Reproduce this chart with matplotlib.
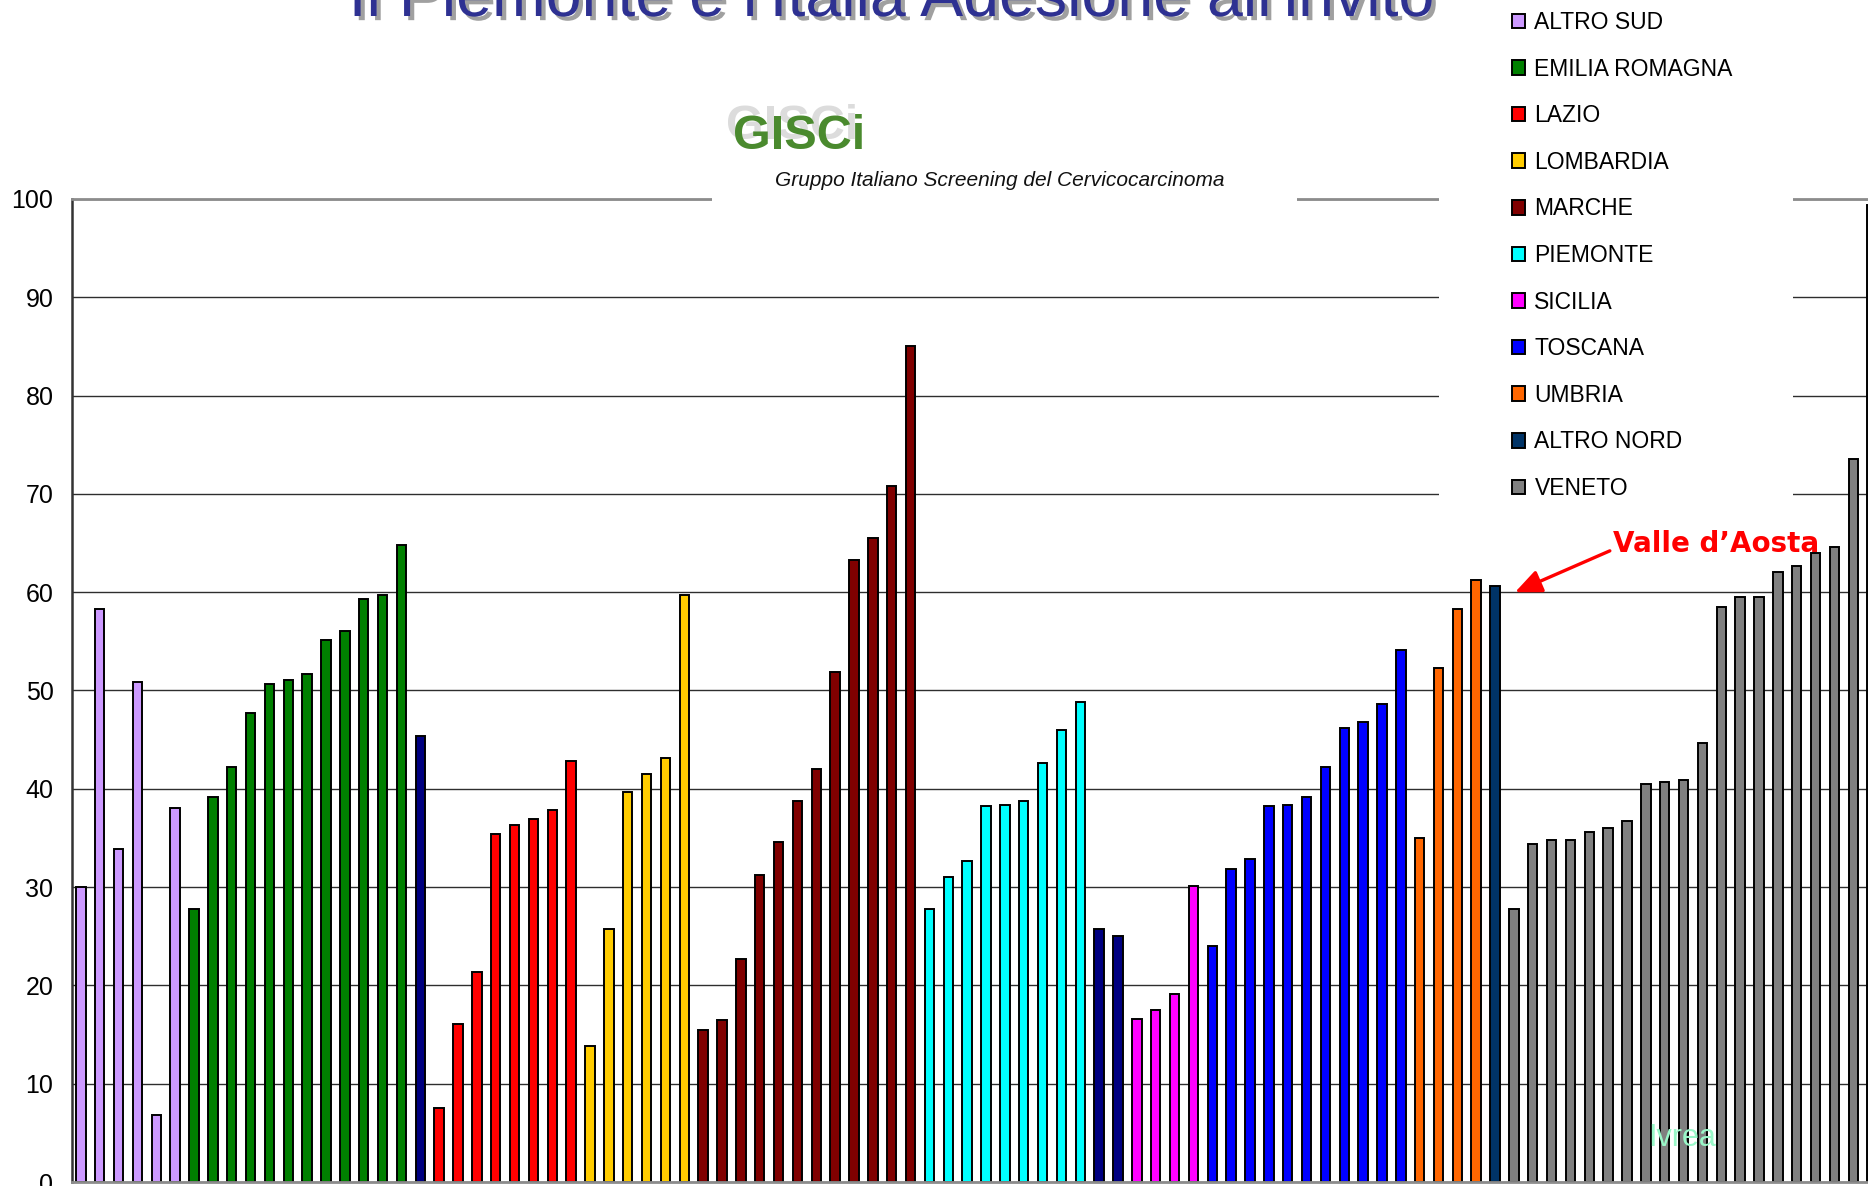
"""
Adesione all'invito per programma di screening, raggruppati per regione.
"""

import matplotlib
matplotlib.use("Agg")
import matplotlib.pyplot as plt
import matplotlib.patheffects as pe
from matplotlib.patches import Patch, Rectangle
from matplotlib import font_manager
import numpy as np

# Valori di adesione (%), nell'ordine delle barre
altro_sud = [30.0, 58.3, 33.9, 50.9, 6.8, 38.0]
emilia_romagna = [27.8, 39.2, 42.2, 47.7, 50.7, 51.1, 51.7, 55.1, 56.1, 59.3, 59.7, 64.8]
altro_a = [45.4]
lazio = [7.5, 16.1, 21.4, 35.4, 36.3, 36.9, 37.8, 42.8]
lombardia = [13.8, 25.7, 39.7, 41.5, 43.1, 59.7]
marche = [15.5, 16.5, 22.7, 31.2, 34.6, 38.8, 42.0, 51.9, 63.3, 65.5, 70.8, 85.0]
piemonte = [27.8, 31.0, 32.7, 38.2, 38.4, 38.8, 42.6, 46.0, 48.8]
altro_b = [25.7, 25.0]
sicilia = [16.6, 17.5, 19.1, 30.1]
toscana = [24.0, 31.8, 32.9, 38.2, 38.4, 39.2, 42.2, 46.2, 46.8, 48.6, 54.1]
umbria = [35.0, 52.3, 58.3, 61.2]
altro_nord = [60.6]
veneto = [27.8, 34.4, 34.8, 34.8, 35.6, 36.0, 36.7, 40.5, 40.7, 40.9, 44.7,
          58.5, 59.5, 59.5, 62.1, 62.7, 64.0, 64.6, 73.5, 99.4]

# (etichetta, colore, valori, in legenda)
GROUPS = [
    ("ALTRO SUD", "#CC99FF", altro_sud, True),
    ("EMILIA ROMAGNA", "#008000", emilia_romagna, True),
    ("", "#000080", altro_a, False),
    ("LAZIO", "#FF0000", lazio, True),
    ("LOMBARDIA", "#FFCC00", lombardia, True),
    ("MARCHE", "#800000", marche, True),
    ("PIEMONTE", "#00FFFF", piemonte, True),
    ("", "#000080", altro_b, False),
    ("SICILIA", "#FF00FF", sicilia, True),
    ("TOSCANA", "#0000FF", toscana, True),
    ("UMBRIA", "#FF6600", umbria, True),
    ("ALTRO NORD", "#003366", altro_nord, True),
    ("VENETO", "#808080", veneto, True),
]

values = []
colors = []
for _, col, vals, _ in GROUPS:
    values += vals
    colors += [col] * len(vals)
x = np.arange(len(values))
valle_idx = len(values) - len(veneto) - 1

W, H = 1868, 1186
plt.rcParams["font.family"] = ["Liberation Sans", "DejaVu Sans"]

fig = plt.figure(figsize=(W / 100, H / 100), dpi=100)
fig.patch.set_facecolor("white")

# Area del grafico: esce dal bordo destro come nell'originale
left_px, right_px = 71.5, 1881.6
top_px, bottom_px = 199, 1182
ax = fig.add_axes([left_px / W, (H - bottom_px) / H,
                   (right_px - left_px) / W, (bottom_px - top_px) / H])

ax.bar(x, values, width=0.5, color=colors, edgecolor="black", linewidth=1.4, zorder=2)

ax.set_xlim(-0.5, len(values) - 0.5)
ax.set_ylim(0, 100)
ax.set_yticks(range(0, 101, 10))
ax.set_xticks([])
ax.tick_params(axis="y", length=0, pad=13, labelsize=18)
ax.set_axisbelow(True)
ax.yaxis.grid(True, color="#2E2E2E", linewidth=1.0)
ax.spines["right"].set_visible(False)
ax.spines["top"].set_color("#8C8C8C")
ax.spines["top"].set_linewidth(2.0)
ax.spines["left"].set_color("#333333")
ax.spines["left"].set_linewidth(1.8)
ax.spines["bottom"].set_color("#8C8C8C")
ax.spines["bottom"].set_linewidth(2.0)

# Annotazione Valle d'Aosta
ax.annotate("Valle d\u2019Aosta", xy=(valle_idx + 1.06, 60.0), xytext=(86.7, 64.9),
            ha="center", va="center", fontsize=20, fontweight="bold",
            color="#FF0000", family="DejaVu Sans",
            arrowprops=dict(arrowstyle="-|>,head_length=0.8,head_width=0.35",
                            color="#FF0000", lw=2.4, mutation_scale=20,
                            relpos=(0.0, 0.3), shrinkA=0, shrinkB=0))

ax.text(84.9, 4.5, "Ivrea", ha="center", va="center", fontsize=22, color="#99F8C8")

# Riquadri bianchi (logo e legenda) sopra la griglia
fig.add_artist(Rectangle((712 / W, 1 - 215 / H), (1297 - 712) / W, 145 / H,
                         transform=fig.transFigure, facecolor="white",
                         edgecolor="none", zorder=2))
fig.add_artist(Rectangle((1439 / W, 1 - 512 / H), (1793 - 1439) / W, 512 / H,
                         transform=fig.transFigure, facecolor="white",
                         edgecolor="none", zorder=2))

# Logo GISCi
fig.text(726 / W, 1 - 139 / H, "GISCi", fontsize=35, fontweight="bold",
         color="#DCDCDC", ha="left", va="baseline", zorder=3)
fig.text(733 / W, 1 - 149 / H, "GISCi", fontsize=35, fontweight="bold",
         color="#4A8A2E", ha="left", va="baseline", zorder=4)
fig.text(1000 / W, 1 - 181 / H, "Gruppo Italiano Screening del Cervicocarcinoma",
         fontsize=15, style="italic", color="#111111", ha="center", va="center", zorder=4)

# Titolo (tagliato in alto)
names = {f.name for f in font_manager.fontManager.ttflist}
title_family = "Liberation Sans Narrow" if "Liberation Sans Narrow" in names else "Liberation Sans"
title = fig.text(892 / W, 1 - 16 / H, "Il Piemonte e l'Italia Adesione all'invito",
                 ha="center", va="baseline", fontsize=50, color="#2E3192",
                 family=title_family, zorder=4,
                 path_effects=[pe.withSimplePatchShadow(offset=(3, -3),
                                                        shadow_rgbFace="#A0A0A0", alpha=1)])
fig.canvas.draw()
tw = title.get_window_extent(fig.canvas.get_renderer()).width
title.set_fontsize(title.get_fontsize() * 1086 / tw)

# Legenda
handles = [Patch(facecolor=col, edgecolor="black", linewidth=1.4)
           for lab, col, _, show in GROUPS if show]
labels = [lab for lab, _, _, show in GROUPS if show]
fig.legend(handles, labels, loc="upper left",
           bbox_to_anchor=(1511.5 / W, 1 - 11 / H), frameon=False,
           fontsize=16.5, handlelength=0.6, handleheight=0.6, handletextpad=0.4,
           labelspacing=1.03, borderpad=0, borderaxespad=0)

fig.savefig("out.png", dpi=100, facecolor="white")
